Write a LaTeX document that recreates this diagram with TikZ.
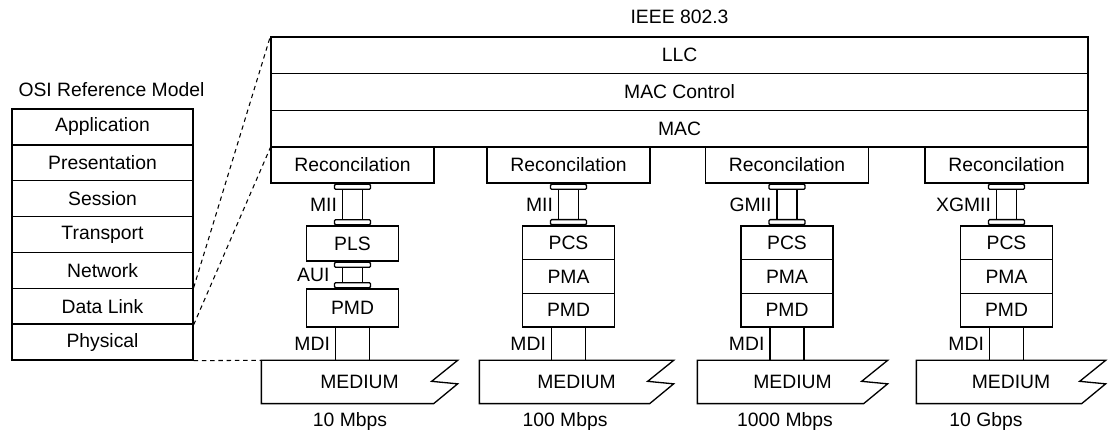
\documentclass[tikz,border=0pt]{standalone}
\usepackage{fontspec}
\setmainfont{Liberation Sans}
\begin{document}
\begin{tikzpicture}[font=\fontsize{11}{13}\selectfont,line width=.75pt,
  layer/.style={draw,inner sep=0pt,minimum height=.717cm,minimum width=3.62cm},
  ieeerow/.style={draw,inner sep=0pt,minimum height=.733cm,minimum width=16.34cm},
  recon/.style={draw,inner sep=0pt,minimum height=.72cm,minimum width=3.26cm},
  sublayer/.style={draw,inner sep=0pt,minimum width=1.84cm},
  plug/.style={draw,inner sep=0pt,minimum width=.72cm,minimum height=.10cm,rounded corners=.6pt},
  medium/.style={inner sep=0pt,minimum height=.84cm},
  iface/.style={anchor=east,inner sep=2.8pt},
  linkline/.style={dash pattern=on 2.5pt off 2.2pt,line width=.6pt}]
\useasboundingbox (0,0) rectangle (22.22,8.72);
\node[anchor=west] (osititle) at (0.24,6.92) {OSI Reference Model};
\node[layer] (app) at (2.05,6.181) {Application};
\node[layer] (pres) at (2.05,5.464) {Presentation};
\node[layer] (sess) at (2.05,4.747) {Session};
\node[layer] (trans) at (2.05,4.030) {Transport};
\node[layer] (net) at (2.05,3.313) {Network};
\node[layer] (dlink) at (2.05,2.596) {Data Link};
\node[layer] (phys) at (2.05,1.879) {Physical};
\node (ieeetitle) at (13.59,8.38) {IEEE 802.3};
\node[ieeerow] (llc) at (13.59,7.613) {LLC};
\node[ieeerow] (macctl) at (13.59,6.88) {MAC Control};
\node[ieeerow] (mac) at (13.59,6.147) {MAC};
\node[recon] (recA) at (7.05,5.42) {Reconcilation};
\node[recon] (recB) at (11.37,5.42) {Reconcilation};
\node[recon] (recC) at (15.74,5.42) {Reconcilation};
\node[recon] (recD) at (20.13,5.42) {Reconcilation};
\node[sublayer,minimum height=.70cm] (plsA) at (7.05,3.85) {PLS};
\node[sublayer,minimum height=.76cm] (pmdA) at (7.05,2.56) {PMD};
\node[sublayer,minimum height=.673cm] (pcsB) at (11.37,3.864) {PCS};
\node[sublayer,minimum height=.673cm] (pmaB) at (11.37,3.191) {PMA};
\node[sublayer,minimum height=.673cm] (pmdB) at (11.37,2.518) {PMD};
\node[sublayer,minimum height=.673cm] (pcsC) at (15.74,3.864) {PCS};
\node[sublayer,minimum height=.673cm] (pmaC) at (15.74,3.191) {PMA};
\node[sublayer,minimum height=.673cm] (pmdC) at (15.74,2.518) {PMD};
\node[sublayer,minimum height=.673cm] (pcsD) at (20.13,3.864) {PCS};
\node[sublayer,minimum height=.673cm] (pmaD) at (20.13,3.191) {PMA};
\node[sublayer,minimum height=.673cm] (pmdD) at (20.13,2.518) {PMD};
\node[plug,anchor=north] (plugA1) at (recA.south) {};
\node[plug,anchor=south] (plugA2) at (plsA.north) {};
\node[plug,anchor=north] (plugA3) at (plsA.south) {};
\node[plug,anchor=south] (plugA4) at (pmdA.north) {};
\node[plug,anchor=north] (plugB1) at (recB.south) {};
\node[plug,anchor=south] (plugB2) at (pcsB.north) {};
\node[plug,anchor=north] (plugC1) at (recC.south) {};
\node[plug,anchor=south] (plugC2) at (pcsC.north) {};
\node[plug,anchor=north] (plugD1) at (recD.south) {};
\node[plug,anchor=south] (plugD2) at (pcsD.north) {};
\draw ([xshift=-.2cm]plugA1.south) -- ([xshift=-.2cm]plugA2.north);
\draw ([xshift=.2cm]plugA1.south) -- ([xshift=.2cm]plugA2.north);
\draw ([xshift=-.2cm]plugA3.south) -- ([xshift=-.2cm]plugA4.north);
\draw ([xshift=.2cm]plugA3.south) -- ([xshift=.2cm]plugA4.north);
\draw ([xshift=-.2cm]plugB1.south) -- ([xshift=-.2cm]plugB2.north);
\draw ([xshift=.2cm]plugB1.south) -- ([xshift=.2cm]plugB2.north);
\draw ([xshift=-.2cm]plugC1.south) -- ([xshift=-.2cm]plugC2.north);
\draw ([xshift=.2cm]plugC1.south) -- ([xshift=.2cm]plugC2.north);
\draw ([xshift=-.2cm]plugD1.south) -- ([xshift=-.2cm]plugD2.north);
\draw ([xshift=.2cm]plugD1.south) -- ([xshift=.2cm]plugD2.north);
\node[iface] (miiA) at (6.85,4.63) {MII};
\node[iface] (auiA) at (6.70,3.22) {AUI};
\node[iface] (miiB) at (11.17,4.63) {MII};
\node[iface] (gmiiC) at (15.54,4.63) {GMII};
\node[iface] (xgmiiD) at (19.93,4.63) {XGMII};
\node[medium,minimum width=3.90cm] (medA) at (7.19,1.08) {MEDIUM};
\node[medium,minimum width=3.86cm] (medB) at (11.53,1.08) {MEDIUM};
\node[medium,minimum width=3.78cm] (medC) at (15.85,1.08) {MEDIUM};
\node[medium,minimum width=3.76cm] (medD) at (20.22,1.08) {MEDIUM};
\draw (medA.north east) -- ++(-.52,-.42) -- ++(.52,-.05) -- ([xshift=-.48cm]medA.south east) -- (medA.south west) -- (medA.north west) -- cycle;
\draw (medB.north east) -- ++(-.52,-.42) -- ++(.52,-.05) -- ([xshift=-.48cm]medB.south east) -- (medB.south west) -- (medB.north west) -- cycle;
\draw (medC.north east) -- ++(-.52,-.42) -- ++(.52,-.05) -- ([xshift=-.48cm]medC.south east) -- (medC.south west) -- (medC.north west) -- cycle;
\draw (medD.north east) -- ++(-.52,-.42) -- ++(.52,-.05) -- ([xshift=-.48cm]medD.south east) -- (medD.south west) -- (medD.north west) -- cycle;
\coordinate (mdiA1) at ([xshift=-.34cm]pmdA.south);
\coordinate (mdiA2) at ([xshift=.34cm]pmdA.south);
\coordinate (mdiB1) at ([xshift=-.34cm]pmdB.south);
\coordinate (mdiB2) at ([xshift=.34cm]pmdB.south);
\coordinate (mdiC1) at ([xshift=-.34cm]pmdC.south);
\coordinate (mdiC2) at ([xshift=.34cm]pmdC.south);
\coordinate (mdiD1) at ([xshift=-.34cm]pmdD.south);
\coordinate (mdiD2) at ([xshift=.34cm]pmdD.south);
\draw (mdiA1) -- (mdiA1 |- medA.north);
\draw (mdiA2) -- (mdiA2 |- medA.north);
\draw (mdiB1) -- (mdiB1 |- medB.north);
\draw (mdiB2) -- (mdiB2 |- medB.north);
\draw (mdiC1) -- (mdiC1 |- medC.north);
\draw (mdiC2) -- (mdiC2 |- medC.north);
\draw (mdiD1) -- (mdiD1 |- medD.north);
\draw (mdiD2) -- (mdiD2 |- medD.north);
\node[iface] (mdiA) at (6.71,1.84) {MDI};
\node[iface] (mdiB) at (11.03,1.84) {MDI};
\node[iface] (mdiC) at (15.40,1.84) {MDI};
\node[iface] (mdiD) at (19.79,1.84) {MDI};
\node (spdA) at (7.00,0.28) {10 Mbps};
\node (spdB) at (11.30,0.28) {100 Mbps};
\node (spdC) at (15.70,0.28) {1000 Mbps};
\node (spdD) at (19.72,0.28) {10 Gbps};
\draw[linkline] (dlink.north east) -- (llc.north west);
\draw[linkline] (dlink.south east) -- (mac.south west);
\draw[linkline] (phys.south east) -- (medA.north west);
\end{tikzpicture}
\end{document}
